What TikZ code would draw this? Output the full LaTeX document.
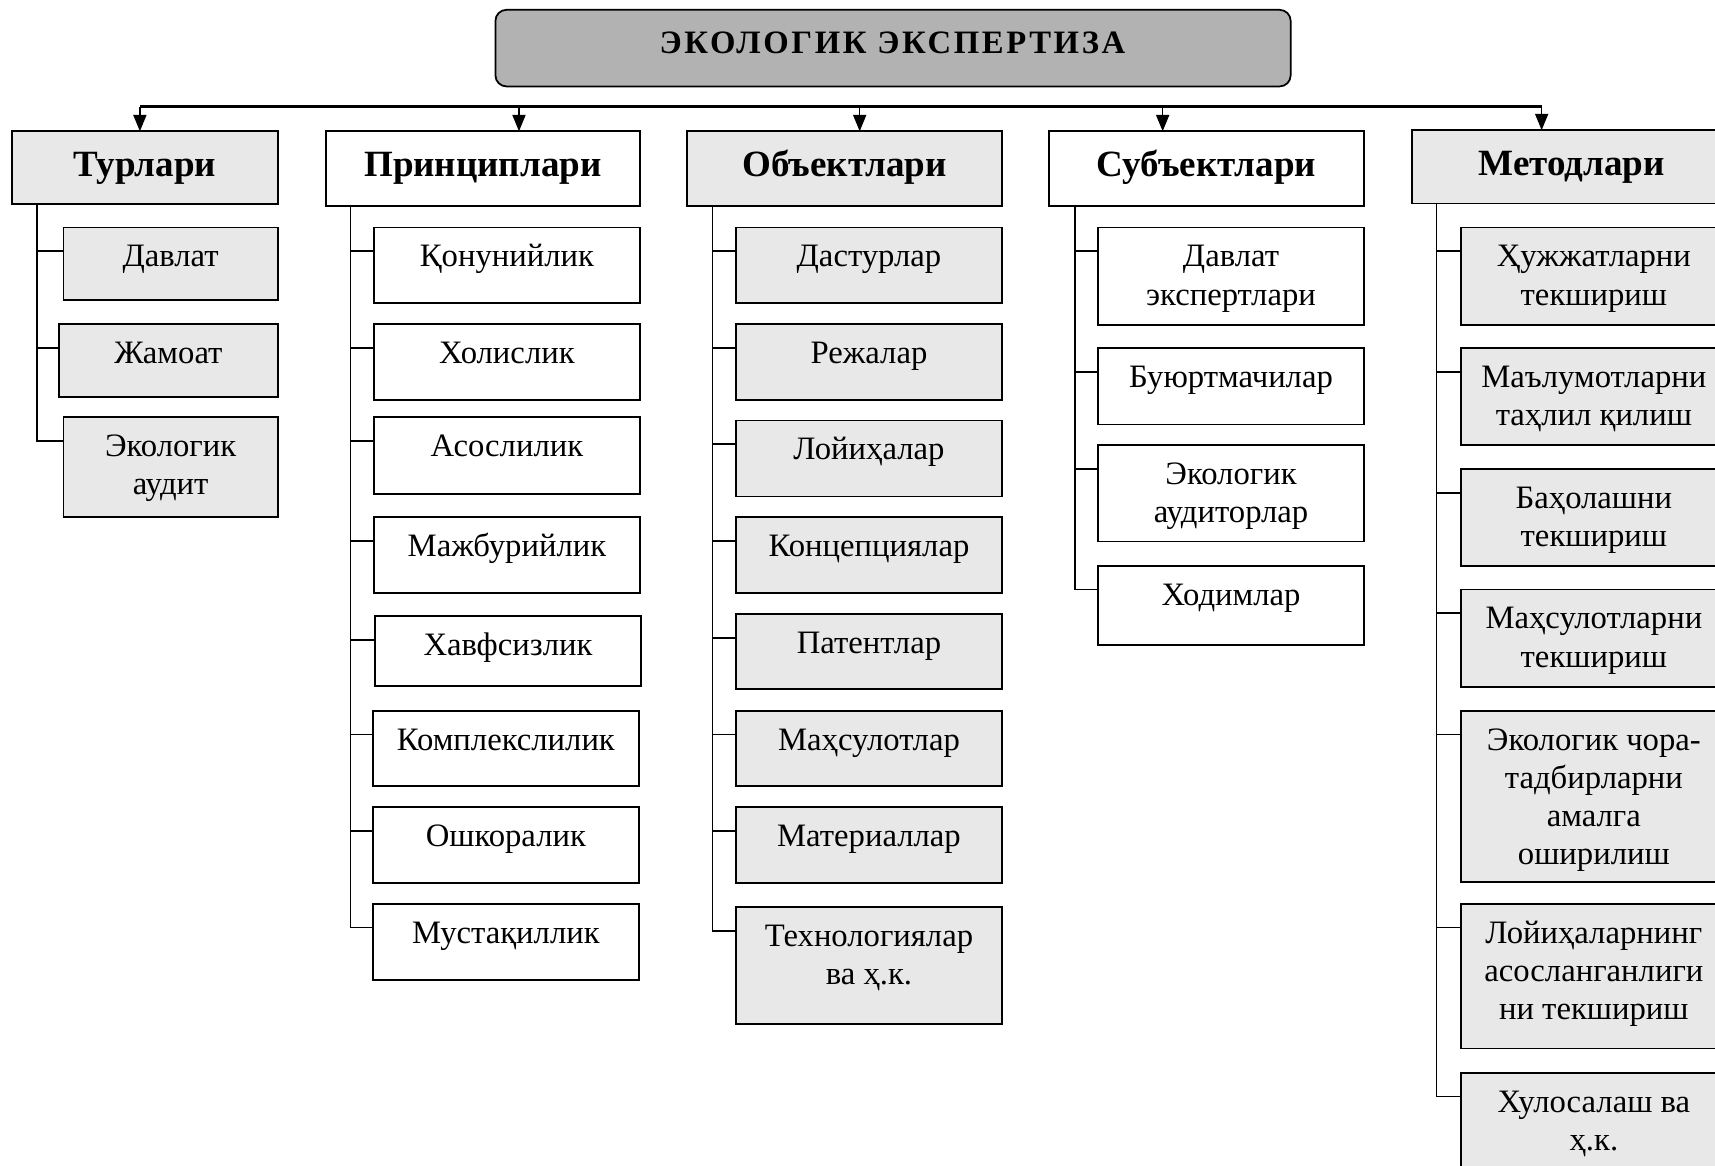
\documentclass[tikz,border=0pt]{standalone}
\usepackage{fontspec}
\setmainfont{Liberation Serif}
\usetikzlibrary{arrows.meta,calc}
\definecolor{lightg}{HTML}{E8E8E8}
\definecolor{titleg}{HTML}{B2B2B2}
\newcommand{\ml}[1]{\begin{tabular}[t]{@{}c@{}}#1\end{tabular}}
\tikzset{
  box/.style={draw=black, line width=1.6bp, inner sep=0pt, outer sep=0pt, anchor=north west},
  gbox/.style={box, fill=lightg},
  wbox/.style={box, fill=white},
  ctext/.style={anchor=base, inner sep=0pt, font=\fontsize{30}{35}\selectfont},
  htext/.style={anchor=base, inner sep=0pt, font=\bfseries\fontsize{34}{40}\selectfont},
  ttext/.style={anchor=base, inner sep=0pt, font=\bfseries\fontsize{30}{36}\selectfont\addfontfeature{LetterSpace=8}},
  trunk/.style={line width=1.6bp},
  bus/.style={line width=2.4bp},
  arr/.style={line width=1.4bp, -{Triangle[length=15bp,width=12bp]}},
}
% name, style, x1, y1, x2, y2, text
\newcommand{\bx}[7]{%
  \node[#2, minimum width={(#5-#3)*1bp}, minimum height={(#6-#4)*1bp}] (#1) at (#3,#4) {};
  \node[ctext] (#1-t) at ($(#1.north)+(0,36)$) {\ml{#7}};
}
\newcommand{\hx}[7]{%
  \node[#2, minimum width={(#5-#3)*1bp}, minimum height={(#6-#4)*1bp}] (#1) at (#3,#4) {};
  \node[htext] (#1-t) at ($(#1.north)+(0,41.5)$) {#7};
}
% trunk: category, child, x offset
\newcommand{\br}[3]{\draw[trunk] ([xshift=#3bp]#1.south west) |- ([yshift=-21.5bp]#2.north west);}
\begin{document}
\begin{tikzpicture}[x=1bp,y=-1bp]
\useasboundingbox (0,0) rectangle (1568,1066);
\clip (0,0) rectangle (1568,1066);
\fill[white] (0,0) rectangle (1568,1066);

% title
\node[draw=black, line width=1.6bp, rounded corners=10bp, fill=titleg, inner sep=0pt, outer sep=0pt, anchor=north west,
      minimum width=727bp, minimum height=70bp] (title) at (453,9) {};
\node[ttext] (title-t) at (816,48.8) {ЭКОЛОГИК ЭКСПЕРТИЗА};

% categories
\hx{tur}{gbox}{11}{120}{254}{186.5}{Турлари}
\hx{pri}{wbox}{298}{120}{585}{188}{Принциплари}
\hx{obj}{gbox}{628}{120}{916}{188}{Объектлари}
\hx{sub}{wbox}{959}{120}{1247}{188}{Субъектлари}
\hx{met}{gbox}{1291}{119}{1583}{186}{Методлари}

% bus and arrows
\coordinate (b1) at (127.9,97.5);
\coordinate (b2) at (474.5,97.5);
\coordinate (b3) at (786,97.5);
\coordinate (b4) at (1063,97.5);
\coordinate (b5) at (1409.5,97.5);
\draw[bus] (b1) -- (b5);
\draw[arr] (b1) -- (b1 |- tur.north);
\draw[arr] (b2) -- (b2 |- pri.north);
\draw[arr] (b3) -- (b3 |- obj.north);
\draw[arr] (b4) -- (b4 |- sub.north);
\draw[arr] (b5) -- (b5 |- met.north);

% Турлари
\bx{t1}{gbox}{58}{208}{254}{274}{Давлат}
\bx{t2}{gbox}{54}{296.5}{254}{363}{Жамоат}
\bx{t3}{gbox}{58}{381.5}{254}{473}{Экологик\\аудит}
\foreach \c in {t1,t2,t3} {\br{tur}{\c}{22.5}}

% Принциплари
\bx{p1}{wbox}{342}{208}{585}{277}{Қонунийлик}
\bx{p2}{wbox}{342}{296.5}{585}{365.5}{Холислик}
\bx{p3}{wbox}{342}{381.5}{585}{451.5}{Асослилик}
\bx{p4}{wbox}{342}{473}{585}{542.5}{Мажбурийлик}
\bx{p5}{wbox}{343}{563.5}{586}{627.5}{Хавфсизлик}
\bx{p6}{wbox}{341}{650}{584}{718.5}{Комплекслилик}
\bx{p7}{wbox}{341}{738}{584}{807.5}{Ошкоралик}
\bx{p8}{wbox}{341}{826.5}{584}{896}{Мустақиллик}
\foreach \c in {p1,p2,p3,p4,p5,p6,p7,p8} {\br{pri}{\c}{22.4}}

% Объектлари
\bx{o1}{gbox}{673}{208}{916}{277}{Дастурлар}
\bx{o2}{gbox}{673}{296.5}{916}{365.5}{Режалар}
\bx{o3}{gbox}{673}{384.5}{916}{454}{Лойиҳалар}
\bx{o4}{gbox}{673}{473}{916}{542.5}{Концепциялар}
\bx{o5}{gbox}{673}{561.5}{916}{630}{Патентлар}
\bx{o6}{gbox}{673}{650}{916}{718.5}{Маҳсулотлар}
\bx{o7}{gbox}{673}{738}{916}{807.5}{Материаллар}
\bx{o8}{gbox}{673}{829.5}{916}{936.5}{Технологиялар\\ва ҳ.к.}
\foreach \c in {o1,o2,o3,o4,o5,o6,o7,o8} {\br{obj}{\c}{23.5}}

% Субъектлари
\bx{s1}{wbox}{1004}{208}{1247}{297}{Давлат\\экспертлари}
\bx{s2}{wbox}{1004}{318.5}{1247}{388}{Буюртмачилар}
\bx{s3}{wbox}{1004}{407}{1247}{495}{Экологик\\аудиторлар}
\bx{s4}{wbox}{1004}{517.5}{1247}{590}{Ходимлар}
\foreach \c in {s1,s2,s3,s4} {\br{sub}{\c}{24}}

% Методлари
\bx{m1}{gbox}{1335.5}{208}{1579}{297}{Ҳужжатларни\\текшириш}
\bx{m2}{gbox}{1335.5}{318.5}{1579}{407}{Маълумотларни\\таҳлил қилиш}
\bx{m3}{gbox}{1335.5}{429}{1579}{517.5}{Баҳолашни\\текшириш}
\bx{m4}{gbox}{1335.5}{539}{1579}{628}{Маҳсулотларни\\текшириш}
\bx{m5}{gbox}{1335.5}{650}{1579}{806.5}{Экологик чора-\\тадбирларни\\амалга\\оширилиш}
\bx{m6}{gbox}{1335.5}{826.5}{1579}{958.5}{Лойиҳаларнинг\\асосланганлиги\\ни текшириш}
\bx{m7}{gbox}{1335.5}{981}{1579}{1100}{Хулосалаш ва\\ҳ.к.}
\foreach \c in {m1,m2,m3,m4,m5,m6,m7} {\br{met}{\c}{22.4}}
\end{tikzpicture}
\end{document}
